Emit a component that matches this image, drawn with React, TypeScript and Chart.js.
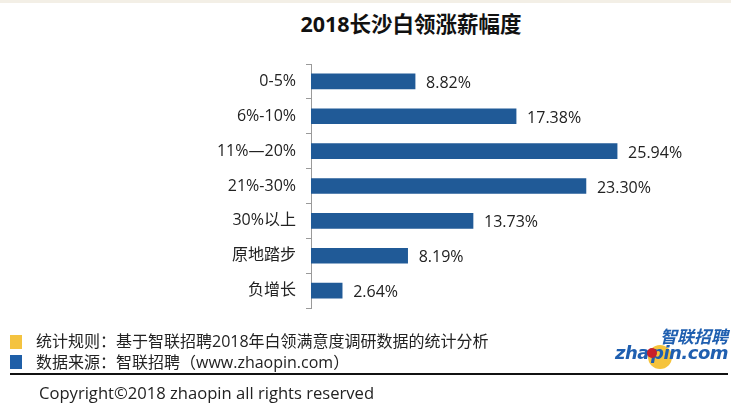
import React, { useEffect, useRef } from "react";
import { Chart, registerables } from "chart.js";

Chart.register(...registerables);

const categories = ["0-5%", "6%-10%", "11%—20%", "21%-30%", "30%以上", "原地踏步", "负增长"];
const values = [8.82, 17.38, 25.94, 23.3, 13.73, 8.19, 2.64];
const valueLabels = ["8.82%", "17.38%", "25.94%", "23.30%", "13.73%", "8.19%", "2.64%"];

const FONT = "'Open Sans', 'Noto Sans CJK SC', sans-serif";

const valueLabelPlugin = {
  id: "valueLabels",
  afterDatasetsDraw(chart: any) {
    const ctx = chart.ctx;
    const meta = chart.getDatasetMeta(0);
    ctx.save();
    ctx.font = `16px ${FONT}`;
    ctx.fillStyle = "#222";
    ctx.textAlign = "left";
    ctx.textBaseline = "middle";
    meta.data.forEach((bar: any, i: number) => {
      ctx.fillText(valueLabels[i], bar.x + 11, bar.y + 2);
    });
    ctx.restore();
  },
};

export default function App() {
  const ref = useRef<HTMLCanvasElement>(null);
  useEffect(() => {
    if (!ref.current) return;
    const chart = new Chart(ref.current, {
      type: "bar",
      data: {
        labels: categories,
        datasets: [
          {
            data: values,
            backgroundColor: "#205a97",
            borderWidth: 0,
            barThickness: 15,
          },
        ],
      },
      plugins: [valueLabelPlugin],
      options: {
        indexAxis: "y",
        animation: false,
        responsive: false,
        maintainAspectRatio: false,
        layout: { padding: { left: 0, top: 64, right: 66, bottom: 96 } },
        plugins: { legend: { display: false }, tooltip: { enabled: false }, title: { display: false } },
        scales: {
          x: { display: false, min: 0, max: 30 },
          y: {
            afterFit: (s: any) => {
              s.width = 311;
            },
            border: { display: true, color: "#9a9a9a", width: 1 },
            grid: { drawOnChartArea: false, tickLength: 5, color: "#9a9a9a", offset: true },
            ticks: { color: "#222", font: { size: 16, family: FONT }, padding: 10 },
          },
        },
      },
    });
    return () => chart.destroy();
  }, []);

  return (
    <div style={{ position: "fixed", left: 0, top: 0, width: 731, height: 404, background: "#fff", overflow: "hidden", fontFamily: FONT }}>
      <div style={{ position: "absolute", left: 0, top: 0, width: 731, height: 3, background: "#f3efe6" }} />
      <div style={{ position: "absolute", left: 0, top: 8, width: 822, textAlign: "center", fontSize: 21.5, fontWeight: 700, color: "#111", lineHeight: "32px" }}>
        2018长沙白领涨薪幅度
      </div>
      <canvas ref={ref} width={731} height={404} style={{ position: "absolute", left: 0, top: 0, width: 731, height: 404 }} />
      <div style={{ position: "absolute", left: 10, top: 335, width: 12, height: 14, background: "#f4c340" }} />
      <div style={{ position: "absolute", left: 36, top: 330, fontSize: 16, color: "#222", lineHeight: "22px", whiteSpace: "nowrap" }}>
        统计规则：基于智联招聘2018年白领满意度调研数据的统计分析
      </div>
      <div style={{ position: "absolute", left: 10, top: 355, width: 12, height: 14, background: "#1f5fa8" }} />
      <div style={{ position: "absolute", left: 36, top: 351, fontSize: 16, color: "#222", lineHeight: "22px", whiteSpace: "nowrap" }}>
        数据来源：智联招聘（www.zhaopin.com）
      </div>
      <div style={{ position: "absolute", left: 10, top: 373, width: 718, height: 2, background: "#111" }} />
      <div style={{ position: "absolute", left: 39, top: 382, fontSize: 16.6, color: "#222", lineHeight: "22px", whiteSpace: "nowrap" }}>
        Copyright©2018 zhaopin all rights reserved
      </div>
      <svg style={{ position: "absolute", left: 600, top: 320 }} width={131} height={50}>
        <circle cx={60} cy={37} r={12} fill="#f5c33c" />
        <text x={128} y={23} textAnchor="end" fontSize={17} fontWeight={700} fontStyle="italic" fill="#1f5fb0" fontFamily="'Noto Sans CJK SC', sans-serif">智联招聘</text>
        <text x={15} y={39} fontSize={18} fontWeight={700} fontStyle="italic" fill="#1f5fb0" fontFamily="'DejaVu Sans', sans-serif" letterSpacing={-0.5}>zha</text>
        <text x={128} y={39} textAnchor="end" fontSize={18} fontWeight={700} fontStyle="italic" fill="#1f5fb0" fontFamily="'DejaVu Sans', sans-serif" letterSpacing={-0.5}>pin.com</text>
        <circle cx={52} cy={33} r={5} fill="#c8202a" />
      </svg>
    </div>
  );
}
